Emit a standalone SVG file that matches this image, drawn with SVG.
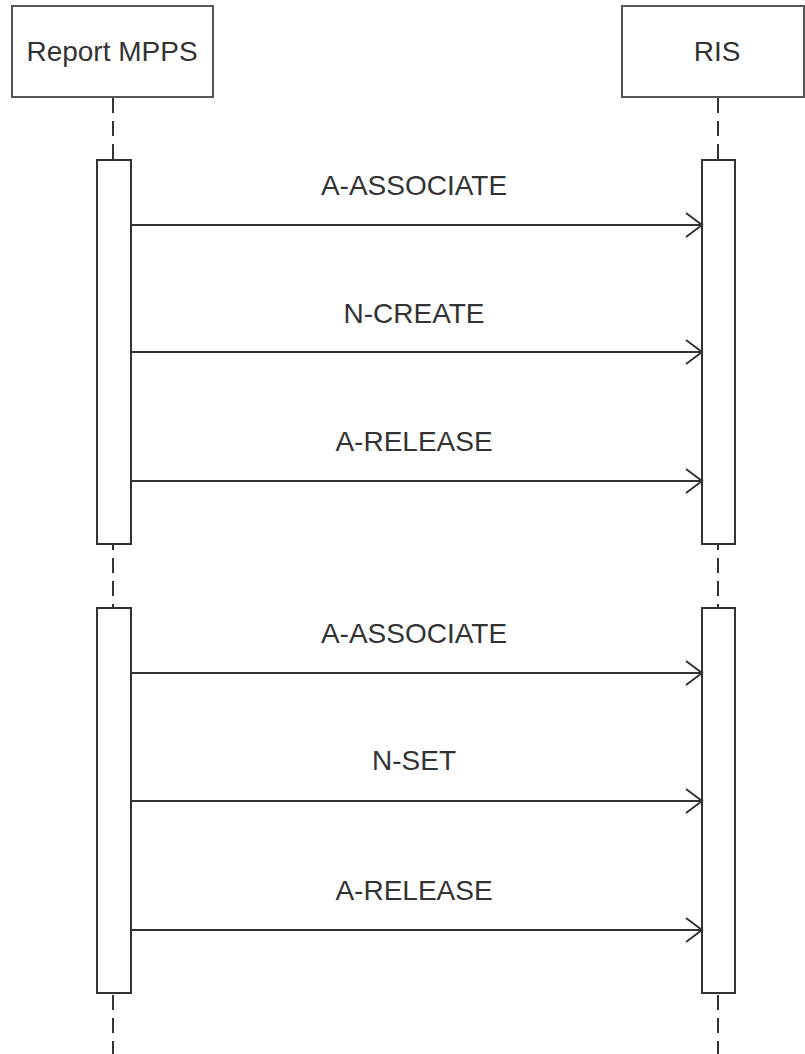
<svg xmlns="http://www.w3.org/2000/svg" width="805" height="1054" viewBox="0 0 805 1054">
<defs>
<style>
.box{fill:#fff;stroke:#555;stroke-width:2}
.act{fill:#fff;stroke:#333;stroke-width:2}
.life{stroke:#333;stroke-width:2;stroke-dasharray:15 8;fill:none}
.msg{stroke:#333;stroke-width:2;fill:none}
.head{stroke:#333;stroke-width:2;fill:none}
.t{font-family:"Liberation Sans",Arial,sans-serif;fill:#333;text-anchor:middle}
.n{font-size:28px}
.l{font-size:28px}
</style>
<marker id="arr" markerWidth="20" markerHeight="28" refX="17" refY="13" orient="auto" markerUnits="userSpaceOnUse">
<path d="M1,1 L17,13 L1,25" class="head"/>
</marker>
</defs>
<g id="lifelines">
<line class="life" x1="113" y1="98" x2="113" y2="1054"/>
<line class="life" x1="718" y1="98" x2="718" y2="1054"/>
</g>
<g id="node-report-mpps">
<rect class="box" x="12" y="6" width="201" height="91"/>
<text class="t n" x="112" y="61">Report MPPS</text>
</g>
<g id="node-ris">
<rect class="box" x="622" y="6" width="182" height="91"/>
<text class="t n" x="717" y="61">RIS</text>
</g>
<g id="activations">
<rect class="act" x="97" y="160" width="34" height="384"/>
<rect class="act" x="702" y="160" width="33" height="384"/>
<rect class="act" x="97" y="608" width="34" height="385"/>
<rect class="act" x="702" y="608" width="33" height="385"/>
</g>
<g id="connectors">
<line class="msg" x1="131" y1="225" x2="702" y2="225" marker-end="url(#arr)"/>
<line class="msg" x1="131" y1="352" x2="702" y2="352" marker-end="url(#arr)"/>
<line class="msg" x1="131" y1="481" x2="702" y2="481" marker-end="url(#arr)"/>
<line class="msg" x1="131" y1="673" x2="702" y2="673" marker-end="url(#arr)"/>
<line class="msg" x1="131" y1="801" x2="702" y2="801" marker-end="url(#arr)"/>
<line class="msg" x1="131" y1="930" x2="702" y2="930" marker-end="url(#arr)"/>
</g>
<g id="labels">
<text class="t l" x="414" y="195">A-ASSOCIATE</text>
<text class="t l" x="414" y="323">N-CREATE</text>
<text class="t l" x="414" y="451">A-RELEASE</text>
<text class="t l" x="414" y="643">A-ASSOCIATE</text>
<text class="t l" x="414" y="770">N-SET</text>
<text class="t l" x="414" y="900">A-RELEASE</text>
</g>
</svg>
